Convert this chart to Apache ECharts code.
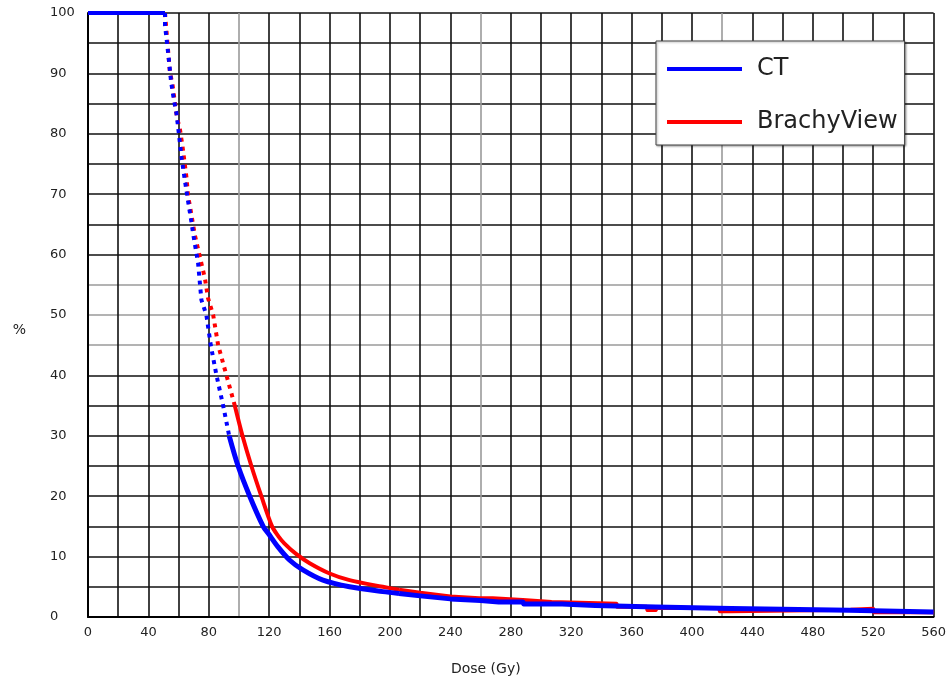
<!DOCTYPE html>
<html>
<head>
<meta charset="utf-8">
<script src="https://cdn.jsdelivr.net/npm/echarts@6/dist/echarts.min.js"></script>
<style>
html,body{margin:0;padding:0;background:#fff;}
#chart{width:949px;height:684px;}
</style>
</head>
<body>
<div id="chart"></div>
<script>
// ---- data (dose in Gy, volume in %) ----
const seriesNames = ['CT', 'BrachyView'];
const ctFlat = [[0, 100], [51, 100]];
const ctSteep = [[51, 100], [51, 97.9], [52, 95.8], [53.8, 91.7], [54.9, 88.9], [56, 87], [57.1, 85.3], [58.6, 83.4], [60.4, 79.5], [62, 76], [64.1, 72.4], [66.3, 68.8], [68.5, 65.4], [69.6, 63.5], [72.9, 58.6], [75.1, 52.5], [78.4, 50], [81.3, 45], [85.1, 40], [89.5, 35], [93.5, 30]];
const ctCurve = [[93.5, 30], [99.4, 25], [107.1, 20], [116, 15], [119.2, 13.9], [125.8, 11.6], [133.6, 9.4], [142.3, 7.8], [155.6, 6.1], [173.2, 5.0], [195.2, 4.2], [206, 3.9]];
const ctSteps = [[206, 3.9], [220, 3.5], [240, 3.0], [260, 2.75], [272, 2.5], [288, 2.5], [288.5, 2.15], [314, 2.15], [314.5, 1.9], [336, 1.9], [336.5, 1.65], [376, 1.65], [376.5, 1.4], [426, 1.4], [426.5, 1.1], [504, 1.1], [504.5, 0.83], [560, 0.83]];

const bvFlat = [[0, 100], [51, 100]];
const bvSteep = [[51, 100], [53.1, 93.6], [54.2, 90.3], [56, 88.1], [58.2, 83.9], [59.3, 82.3], [60.8, 80.9], [62.6, 77.9], [65.3, 72.6], [66.3, 69.6], [67.4, 68.2], [70.7, 63.3], [74, 59.7], [77.4, 56.1], [79.5, 52.8], [82.9, 50], [86.2, 45], [91.7, 40], [97.2, 35]];
const bvCurve = [[97.2, 35], [102.3, 30], [108.2, 25], [114.8, 20], [121.9, 15], [126, 13.4], [130, 12.2], [138, 10.4], [146.8, 8.9], [160, 7.2], [173.2, 6.1], [195.2, 5.0], [206, 4.5]];
const bvSteps = [[206, 4.5], [220, 4.0], [240, 3.4], [259, 3.1], [268, 3.1], [268.5, 2.8], [288, 2.8], [288.5, 2.5], [307, 2.5], [307.5, 2.3], [350, 2.2], [350.5, 1.7], [370, 1.7], [370.5, 1.15], [376, 1.15], [376.5, 1.5], [418, 1.5], [418.5, 0.95], [425, 0.95], [425.5, 1.2], [505, 1.2], [505.5, 1.35], [520, 1.35], [520.5, 0.8], [560, 0.8]];

const xAxisTitle = 'Dose (Gy)';
const yAxisTitle = '%';

// ---- styling ----
const BLUE = '#0000ff';
const RED = '#ff0000';
const DARK = '#111111';
const GREY = '#9a9a9a';
const FONT = 'DejaVu Sans';

function lineSeries(name, data, color, width, dashed, smooth) {
  return {
    name: name,
    type: 'line',
    data: data,
    showSymbol: false,
    clip: false,
    animation: false,
    silent: true,
    smooth: smooth ? 0.3 : false,
    lineStyle: {color: color, width: width, type: dashed ? [4, 5] : 'solid', cap: 'butt', join: 'round'},
    itemStyle: {color: color}
  };
}

const chart = echarts.init(document.getElementById('chart'), null, {renderer: 'canvas'});
const xColors = [DARK, DARK, DARK, DARK, DARK, GREY, DARK, DARK];
const yColors = [];
for (let i = 0; i <= 20; i++) yColors.push((i >= 9 && i <= 11) ? GREY : DARK);

chart.setOption({
  animation: false,
  backgroundColor: '#ffffff',
  grid: {left: 88, top: 13, right: 14, bottom: 67, containLabel: false},
  legend: {
    left: 656, top: 41,
    orient: 'vertical',
    itemWidth: 75, itemHeight: 4, itemGap: 29,
    padding: [16, 7, 11, 11],
    backgroundColor: '#ffffff',
    borderColor: '#444',
    borderWidth: 1,
    shadowColor: 'rgba(0,0,0,0.35)', shadowBlur: 2, shadowOffsetX: 1, shadowOffsetY: 1,
    selectedMode: false,
    textStyle: {fontFamily: FONT, fontSize: 24, color: '#222', lineHeight: 24, padding: [0, 0, 0, 10]},
    data: [
      {name: seriesNames[0], icon: 'rect', itemStyle: {color: BLUE}},
      {name: seriesNames[1], icon: 'rect', itemStyle: {color: RED}}
    ]
  },
  xAxis: {
    type: 'value', min: 0, max: 560, interval: 20,
    name: xAxisTitle, nameLocation: 'middle', nameGap: 45,
    nameTextStyle: {fontFamily: FONT, fontSize: 14, color: '#222', padding: [0, 50, 0, 0]},
    axisLine: {show: true, lineStyle: {color: '#000', width: 2}},
    axisTick: {show: false},
    axisLabel: {interval: 1, fontFamily: FONT, fontSize: 13, color: '#222', margin: 9,
      formatter: v => (v % 40 === 0 ? String(v) : '')},
    splitLine: {show: true, lineStyle: {color: xColors, width: 1.6}}
  },
  yAxis: {
    type: 'value', min: 0, max: 100, interval: 5,
    name: yAxisTitle, nameLocation: 'middle', nameGap: 62, nameRotate: 0,
    nameTextStyle: {fontFamily: FONT, fontSize: 14, color: '#222', verticalAlign: 'top', padding: [8, 0, 0, 0]},
    axisLine: {show: true, lineStyle: {color: '#000', width: 2}},
    axisTick: {show: false},
    axisLabel: {fontFamily: FONT, fontSize: 13, color: '#222', margin: 38, align: 'left',
      formatter: v => (v % 10 === 0 ? String(v) : '')},
    splitLine: {show: true, lineStyle: {color: yColors, width: 1.6}}
  },
  series: [
    lineSeries(seriesNames[1], bvFlat, RED, 4, false, false),
    lineSeries(seriesNames[1], bvSteep, RED, 4, true, false),
    lineSeries(seriesNames[1], bvCurve, RED, 4, false, true),
    lineSeries(seriesNames[1], bvSteps, RED, 4, false, false),
    lineSeries(seriesNames[0], ctFlat, BLUE, 4, false, false),
    lineSeries(seriesNames[0], ctSteep, BLUE, 4, true, false),
    lineSeries(seriesNames[0], ctCurve, BLUE, 5, false, true),
    lineSeries(seriesNames[0], ctSteps, BLUE, 5, false, false)
  ]
});
</script>
</body>
</html>
